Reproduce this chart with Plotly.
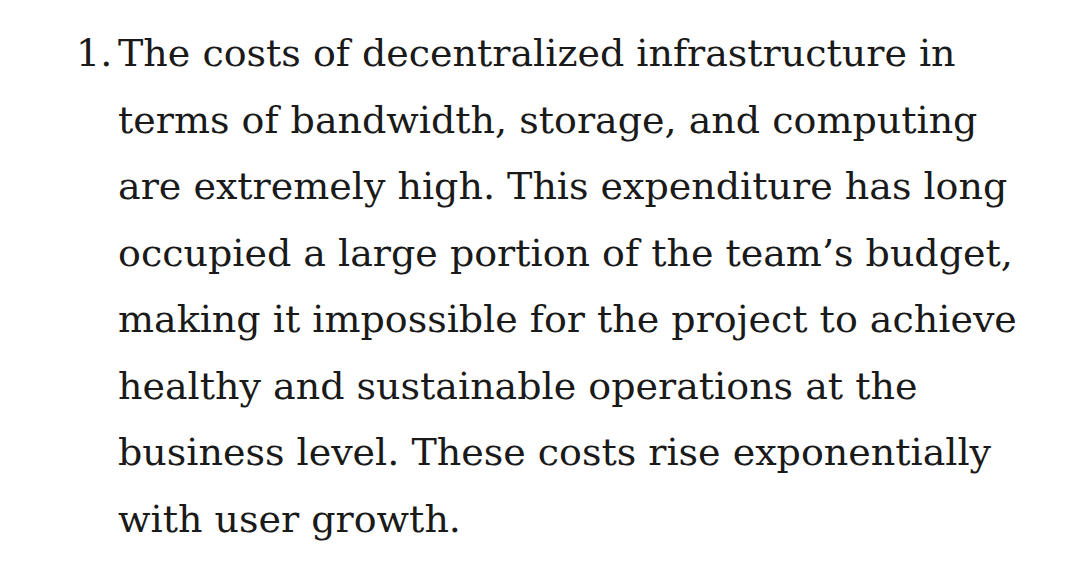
import plotly.graph_objects as go

marker = "1."
lines = [
    "The costs of decentralized infrastructure in",
    "terms of bandwidth, storage, and computing",
    "are extremely high. This expenditure has long",
    "occupied a large portion of the team’s budget,",
    "making it impossible for the project to achieve",
    "healthy and sustainable operations at the",
    "business level. These costs rise exponentially",
    "with user growth.",
]

W, H = 1077, 563
top, step = 45, 66.5
fnt = dict(family="DejaVu Serif", size=38, color="#1a1a1a")

fig = go.Figure()
ann = [dict(x=106, y=top, text=marker, xanchor="right", yanchor="middle",
            showarrow=False, font=fnt)]
for i, t in enumerate(lines):
    ann.append(dict(x=108, y=top + i * step, text=t, xanchor="left", yanchor="middle",
                    showarrow=False, font=fnt))
fig.update_layout(
    width=W, height=H, margin=dict(l=0, r=0, t=0, b=0),
    paper_bgcolor="white", plot_bgcolor="white",
    xaxis=dict(range=[0, W], visible=False, fixedrange=True),
    yaxis=dict(range=[H, 0], visible=False, fixedrange=True),
    annotations=ann, showlegend=False,
)
fig.write_html("out.html", config={"displayModeBar": False})
